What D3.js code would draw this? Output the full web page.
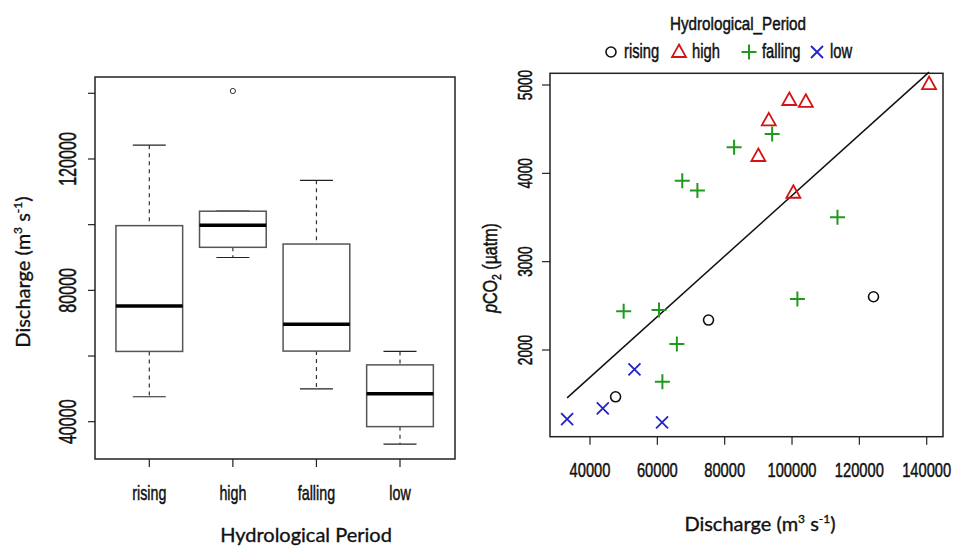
<!DOCTYPE html>
<html>
<head>
<meta charset="utf-8">
<script src="https://cdn.jsdelivr.net/npm/d3@7"></script>
<style>
  body { margin: 0; background: #fff; }
  svg { display: block; }
  .narrow { font-family: "Liberation Sans", Arial, sans-serif; fill: #111; stroke: #111; stroke-width: 0.5; }
  .calib { font-family: Lato, "Open Sans", sans-serif; fill: #111; stroke: #111; stroke-width: 0.35; }
</style>
</head>
<body>
<svg id="chart" width="956" height="546"></svg>
<script>
// periods and discharge (m3 s-1) / pCO2 (uatm) per sample
const periods = ["rising", "high", "falling", "low"];
const risingQ = [47600, 75200, 124200];
const risingCO2 = [1470, 2339, 2603];
const highQ = [90000, 93100, 99200, 100400, 104100, 140700];
const highCO2 = [4196, 4600, 4830, 3780, 4810, 5011];
const fallingQ = [50000, 60500, 61500, 65800, 67400, 71900, 82800, 94100, 101600, 113500];
const fallingCO2 = [2440, 2452, 1640, 2067, 3917, 3807, 4294, 4445, 2576, 3502];
const lowQ = [33200, 43800, 53200, 61400];
const lowCO2 = [1218, 1339, 1780, 1180];

const boxTicks = [40000, 60000, 80000, 100000, 120000, 140000];
const boxTickLabels = [40000, 80000, 120000];
const qTicks = [40000, 60000, 80000, 100000, 120000, 140000];
const co2Ticks = [2000, 3000, 4000, 5000];

const colors = { rising: "#111111", high: "#d41414", falling: "#1f9a1f", low: "#2222cc" };

const svg = d3.select("#chart");

const groups = [
  { name: "rising", q: risingQ, c: risingCO2 },
  { name: "high", q: highQ, c: highCO2 },
  { name: "falling", q: fallingQ, c: fallingCO2 },
  { name: "low", q: lowQ, c: lowCO2 }
];

// R style fivenum + boxplot.stats
function fivenum(v) {
  const x = v.slice().sort((a, b) => a - b);
  const n = x.length;
  const n4 = Math.floor((n + 3) / 2) / 2;
  const d = [1, n4, (n + 1) / 2, n + 1 - n4, n];
  return d.map(k => 0.5 * (x[Math.floor(k) - 1] + x[Math.ceil(k) - 1]));
}
function boxStats(v) {
  const f = fivenum(v);
  const iqr = f[3] - f[1];
  const inside = v.filter(d => d >= f[1] - 1.5 * iqr && d <= f[3] + 1.5 * iqr);
  return {
    lo: d3.min(inside), q1: f[1], med: f[2], q3: f[3], hi: d3.max(inside),
    out: v.filter(d => d < f[1] - 1.5 * iqr || d > f[3] + 1.5 * iqr)
  };
}

// narrow text (Arial Narrow look): squeezed along the writing direction
function narrow(parent, x, y, rot, size, sq, anchor) {
  return parent.append("text")
    .attr("class", "narrow")
    .attr("font-size", size)
    .attr("text-anchor", anchor || "middle")
    .attr("transform", `translate(${x},${y}) rotate(${rot}) scale(${sq},1)`);
}

// ---------- left: boxplot ----------
const L = { x0: 95, x1: 455, y0: 77, y1: 459 };
const yL = d3.scaleLinear().domain([40000, 140000]).range([421.7, 93.3]);
const xL = d3.scalePoint().domain(periods).range([149.3, 400]);
const boxW = 66.7, capW = 33;

const left = svg.append("g");
left.append("rect")
  .attr("x", L.x0).attr("y", L.y0)
  .attr("width", L.x1 - L.x0).attr("height", L.y1 - L.y0)
  .attr("fill", "none").attr("stroke", "#222").attr("stroke-width", 1.5);

left.selectAll(".ytick")
  .data(boxTicks)
  .join("line")
  .attr("x1", L.x0 - 7).attr("x2", L.x0)
  .attr("y1", d => yL(d)).attr("y2", d => yL(d))
  .attr("stroke", "#222").attr("stroke-width", 1.2);

boxTickLabels.forEach(d => narrow(left, 76, yL(d), -90, 23, 0.7).text(d));

left.selectAll(".xtick")
  .data(periods)
  .join("line")
  .attr("x1", d => xL(d)).attr("x2", d => xL(d))
  .attr("y1", L.y1).attr("y2", L.y1 + 8)
  .attr("stroke", "#222").attr("stroke-width", 1.2);

periods.forEach(d => narrow(left, xL(d), 500, 0, 21, 0.68).text(d));

groups.forEach(g => {
  const s = boxStats(g.q);
  const cx = xL(g.name);
  const b = left.append("g");
  // whiskers
  b.append("line").attr("x1", cx).attr("x2", cx).attr("y1", yL(s.hi)).attr("y2", yL(s.q3))
    .attr("stroke", "#333").attr("stroke-width", 1.2).attr("stroke-dasharray", "4,4");
  b.append("line").attr("x1", cx).attr("x2", cx).attr("y1", yL(s.q1)).attr("y2", yL(s.lo))
    .attr("stroke", "#333").attr("stroke-width", 1.2).attr("stroke-dasharray", "4,4");
  b.append("line").attr("x1", cx - capW / 2).attr("x2", cx + capW / 2).attr("y1", yL(s.hi)).attr("y2", yL(s.hi))
    .attr("stroke", "#222").attr("stroke-width", 1.2);
  b.append("line").attr("x1", cx - capW / 2).attr("x2", cx + capW / 2).attr("y1", yL(s.lo)).attr("y2", yL(s.lo))
    .attr("stroke", "#222").attr("stroke-width", 1.2);
  b.append("rect")
    .attr("x", cx - boxW / 2).attr("y", yL(s.q3))
    .attr("width", boxW).attr("height", yL(s.q1) - yL(s.q3))
    .attr("fill", "#fff").attr("stroke", "#555").attr("stroke-width", 1.5);
  b.append("line").attr("x1", cx - boxW / 2).attr("x2", cx + boxW / 2).attr("y1", yL(s.med)).attr("y2", yL(s.med))
    .attr("stroke", "#000").attr("stroke-width", 3.5);
  b.selectAll("circle").data(s.out).join("circle")
    .attr("cx", cx).attr("cy", d => yL(d)).attr("r", 2.6)
    .attr("fill", "none").attr("stroke", "#333").attr("stroke-width", 1);
});

const unitHtml = 'Discharge (m<tspan dy="-8" font-size="12">3</tspan><tspan dy="8"> s</tspan><tspan dy="-8" font-size="12">-1</tspan><tspan dy="8">)</tspan>';

left.append("text")
  .attr("class", "calib")
  .attr("font-size", 20)
  .attr("text-anchor", "middle")
  .attr("transform", "translate(30,272) rotate(-90)")
  .html(unitHtml);

left.append("text")
  .attr("class", "calib")
  .attr("font-size", 20)
  .attr("text-anchor", "middle")
  .attr("x", 306).attr("y", 542)
  .text("Hydrological Period");

// ---------- right: scatter ----------
const R = { x0: 550, x1: 943, y0: 73.3, y1: 436.7 };
const xR = d3.scaleLinear().domain([40000, 140000]).range([590, 926.7]);
const yR = d3.scaleLinear().domain([2000, 5000]).range([350, 85]);

const right = svg.append("g");
right.append("rect")
  .attr("x", R.x0).attr("y", R.y0)
  .attr("width", R.x1 - R.x0).attr("height", R.y1 - R.y0)
  .attr("fill", "none").attr("stroke", "#222").attr("stroke-width", 1.5);

right.selectAll(".xt")
  .data(qTicks).join("line")
  .attr("x1", d => xR(d)).attr("x2", d => xR(d))
  .attr("y1", R.y1).attr("y2", R.y1 + 8)
  .attr("stroke", "#222").attr("stroke-width", 1.2);
qTicks.forEach(d => narrow(right, xR(d), 477, 0, 21, 0.7).text(d));

right.selectAll(".yt")
  .data(co2Ticks).join("line")
  .attr("x1", R.x0 - 8).attr("x2", R.x0)
  .attr("y1", d => yR(d)).attr("y2", d => yR(d))
  .attr("stroke", "#222").attr("stroke-width", 1.2);
co2Ticks.forEach(d => narrow(right, 532, yR(d), -90, 19.5, 0.7).text(d));

// least squares line through all samples
const allQ = groups.flatMap(g => g.q);
const allC = groups.flatMap(g => g.c);
const mx = d3.mean(allQ), my = d3.mean(allC);
const slope = d3.sum(allQ, (q, i) => (q - mx) * (allC[i] - my)) / d3.sum(allQ, q => (q - mx) ** 2);
const icpt = my - slope * mx;
const qExt = d3.extent(allQ);
right.append("line")
  .attr("x1", xR(qExt[0])).attr("y1", yR(icpt + slope * qExt[0]))
  .attr("x2", xR(qExt[1])).attr("y2", yR(icpt + slope * qExt[1]))
  .attr("stroke", "#111").attr("stroke-width", 1.5);

function symbol(sel, name) {
  const c = colors[name];
  if (name === "rising") {
    sel.append("circle").attr("r", 5).attr("fill", "none").attr("stroke", c).attr("stroke-width", 1.6);
  } else if (name === "high") {
    sel.append("path").attr("d", "M0,-7.5L7,5L-7,5Z").attr("fill", "none").attr("stroke", c).attr("stroke-width", 1.8);
  } else if (name === "falling") {
    sel.append("path").attr("d", "M-7.5,0H7.5M0,-7.5V7.5").attr("stroke", c).attr("stroke-width", 2);
  } else {
    sel.append("path").attr("d", "M-6,-6L6,6M-6,6L6,-6").attr("stroke", c).attr("stroke-width", 1.8);
  }
}

groups.forEach(g => {
  right.selectAll(".p-" + g.name)
    .data(g.q.map((q, i) => ({ q, c: g.c[i] })))
    .join("g")
    .attr("transform", d => `translate(${xR(d.q)},${yR(d.c)})`)
    .each(function () { symbol(d3.select(this), g.name); });
});

narrow(right, 497, 268, -90, 20, 0.8)
  .html('<tspan font-style="italic">p</tspan>CO<tspan dy="4" font-size="13">2</tspan><tspan dy="-4"> (\u00b5atm)</tspan>');

right.append("text")
  .attr("class", "calib")
  .attr("font-size", 20)
  .attr("text-anchor", "middle")
  .attr("x", 760).attr("y", 531)
  .html(unitHtml);

// legend
const legendX = [611, 679, 749, 817];
narrow(right, 738, 30, 0, 19, 0.8).text("Hydrological_Period");
periods.forEach((d, i) => {
  const g = right.append("g").attr("transform", `translate(${legendX[i]},52)`);
  symbol(g, d);
  narrow(g, 13, 6, 0, 20.5, 0.72, "start").text(d);
});
</script>
</body>
</html>
